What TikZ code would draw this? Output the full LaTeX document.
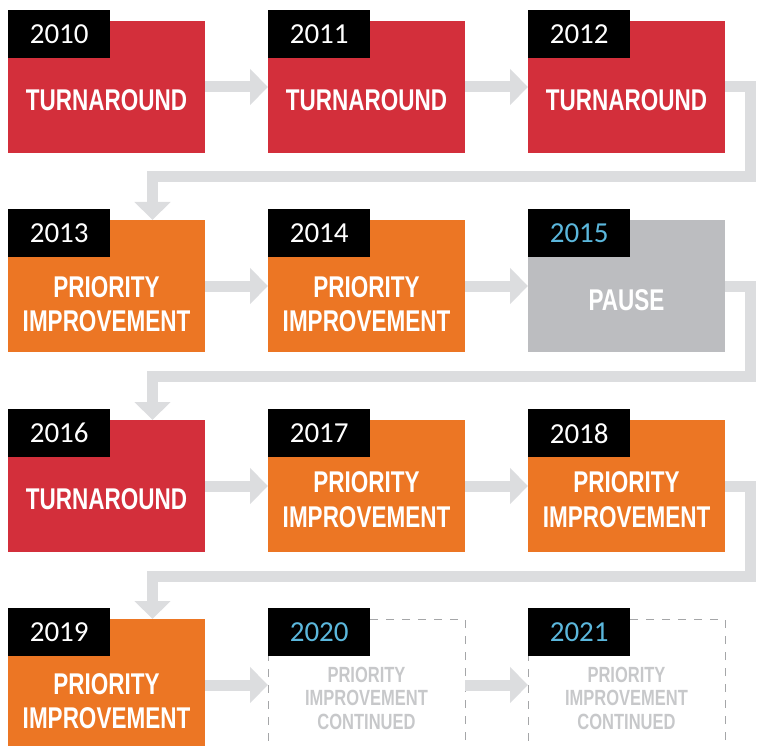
\documentclass[tikz,border=0pt]{standalone}
\usepackage{fontspec}
\setmainfont{Carlito}
\newfontfamily\headfont[FakeStretch=0.75]{Liberation Sans}
\usetikzlibrary{arrows.meta}
\definecolor{tred}{HTML}{D32F3B}
\definecolor{porange}{HTML}{EC7624}
\definecolor{pausegray}{HTML}{BCBDC0}
\definecolor{flowgray}{HTML}{DCDDDF}
\definecolor{dashgray}{HTML}{A5A6A8}
\definecolor{futuretext}{HTML}{C7C8CA}
\definecolor{yearblue}{HTML}{5BB7DC}

\begin{document}
\begin{tikzpicture}[x=1pt, y=-1pt,
        box/.style={anchor=north west, minimum width=197pt, minimum height=132pt, inner sep=0pt, outer sep=0pt},
        tab/.style={anchor=north west, fill=black, minimum width=102pt, minimum height=48pt, inner sep=0pt, text=white, font=\fontsize{29}{29}\selectfont},
        title/.style={text=white, align=center, font=\headfont\bfseries\fontsize{30}{34.5}\selectfont},
        future/.style={text=futuretext, align=center, font=\headfont\bfseries\fontsize{22}{23.5}\selectfont},
        dashbox/.style={box, draw=dashgray, line width=1pt, dash pattern=on 8pt off 8pt},
        flow/.style={draw=flowgray, line width=11pt, -{Triangle[width=35pt, length=18pt]}}]
        \useasboundingbox (0,0) rectangle (760,746);
        \clip (0,0) rectangle (760,746);
        % row 1
        \node[box, fill=tred] (b2010) at (8,21) {};
        \node[box, fill=tred] (b2011) at (268,21) {};
        \node[box, fill=tred] (b2012) at (528,21) {};
        \node[tab] (y2010) at (8,10) {2010};
        \node[tab] (y2011) at (268,10) {2011};
        \node[tab] (y2012) at (528,10) {2012};
        \node[title] (t2010) at (106.5,100) {TURNAROUND};
        \node[title] (t2011) at (366.5,100) {TURNAROUND};
        \node[title] (t2012) at (626.5,100) {TURNAROUND};
        \draw[flow] (b2010.east) -- (b2011.west);
        \draw[flow] (b2011.east) -- (b2012.west);
        % row 2
        \node[box, fill=porange] (b2013) at (8,220) {};
        \node[box, fill=porange] (b2014) at (268,220) {};
        \node[box, fill=pausegray] (b2015) at (528,220) {};
        \node[tab] (y2013) at (8,209) {2013};
        \node[tab] (y2014) at (268,209) {2014};
        \node[tab, text=yearblue] (y2015) at (528,209) {2015};
        \node[title] (t2013) at (106.5,304) {PRIORITY\\IMPROVEMENT};
        \node[title] (t2014) at (366.5,304) {PRIORITY\\IMPROVEMENT};
        \node[title] (t2015) at (626.5,300) {PAUSE};
        \draw[flow] (b2013.east) -- (b2014.west);
        \draw[flow] (b2014.east) -- (b2015.west);
        % row 3
        \node[box, fill=tred] (b2016) at (8,420) {};
        \node[box, fill=porange] (b2017) at (268,420) {};
        \node[box, fill=porange] (b2018) at (528,420) {};
        \node[tab] (y2016) at (8,409) {2016};
        \node[tab] (y2017) at (268,409) {2017};
        \node[tab] (y2018) at (528,409) {2018};
        \node[title] (t2016) at (106.5,499.5) {TURNAROUND};
        \node[title] (t2017) at (366.5,499.5) {PRIORITY\\IMPROVEMENT};
        \node[title] (t2018) at (626.5,499.5) {PRIORITY\\IMPROVEMENT};
        \draw[flow] (b2016.east) -- (b2017.west);
        \draw[flow] (b2017.east) -- (b2018.west);
        % row 4
        \node[box, fill=porange] (b2019) at (8,619) {};
        \node[dashbox] (b2020) at (268,619) {};
        \node[dashbox] (b2021) at (528,619) {};
        \node[tab] (y2019) at (8,608) {2019};
        \node[tab, text=yearblue] (y2020) at (268,608) {2020};
        \node[tab, text=yearblue] (y2021) at (528,608) {2021};
        \node[title] (t2019) at (106.5,701) {PRIORITY\\IMPROVEMENT};
        \node[future] (t2020) at (366.5,698) {PRIORITY\\IMPROVEMENT\\CONTINUED};
        \node[future] (t2021) at (626.5,698) {PRIORITY\\IMPROVEMENT\\CONTINUED};
        \draw[flow] (b2019.east) -- (b2020.west);
        \draw[flow] (b2020.east) -- (b2021.west);
        % row to row
        \coordinate (w1) at (750.5,177);
        \coordinate (w2) at (750.5,376.5);
        \coordinate (w3) at (750.5,576);
        \draw[flow] (b2012.east) -| (w1) -| ([xshift=46pt]b2013.north);
        \draw[flow] (b2015.east) -| (w2) -| ([xshift=46pt]b2016.north);
        \draw[flow] (b2018.east) -| (w3) -| ([xshift=46pt]b2019.north);
\end{tikzpicture}
\end{document}
